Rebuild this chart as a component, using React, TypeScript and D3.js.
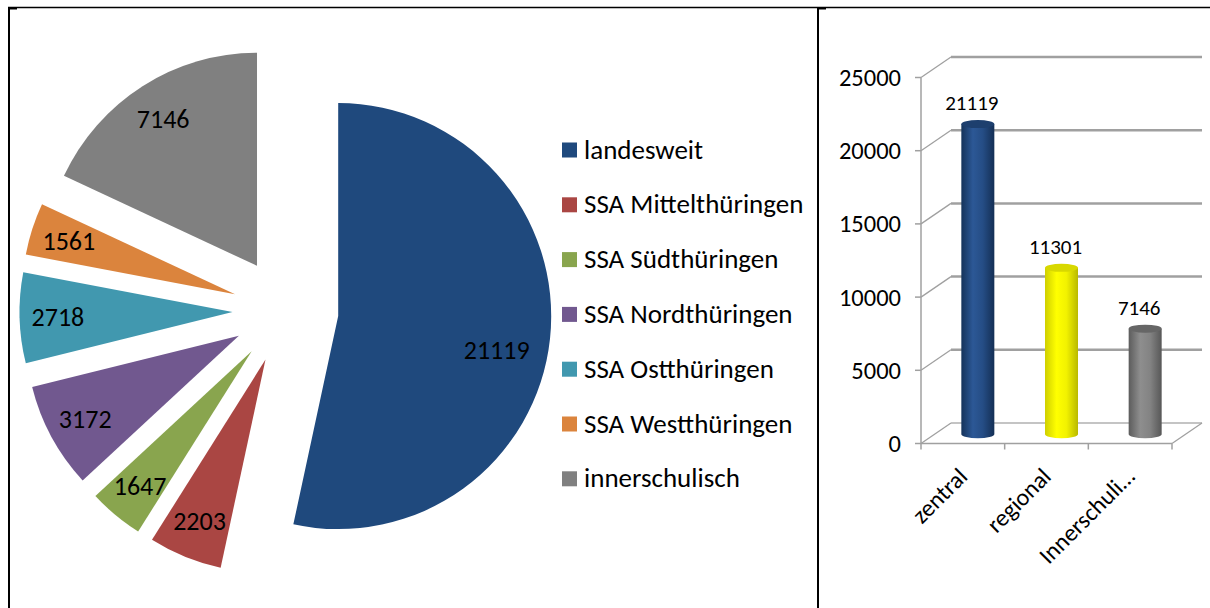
import React from "react";
import * as d3 from "d3";

const pieCategories = [
  "landesweit",
  "SSA Mittelthüringen",
  "SSA Südthüringen",
  "SSA Nordthüringen",
  "SSA Ostthüringen",
  "SSA Westthüringen",
  "innerschulisch",
];
const pieValues = [21119, 2203, 1647, 3172, 2718, 1561, 7146];
const pieColors = ["#1f497d", "#aa4643", "#89a54e", "#71588f", "#4198af", "#db843d", "#808080"];

const barCategories = ["zentral", "regional", "Innerschuli…"];
const barValues = [21119, 11301, 7146];
const barTicks = [0, 5000, 10000, 15000, 20000, 25000];
const barGradients = [
  ["#15335a", "#2c5896", "#254d85", "#142f55"],
  ["#cfcf00", "#ffff00", "#f2f200", "#b9b900"],
  ["#5c5c5c", "#8e8e8e", "#838383", "#575757"],
];
const barTopColors = ["#1d3f6e", "#d8d800", "#666666"];

const FONT = "Carlito, Calibri, Lato, sans-serif";

export default function App() {
  // ---- Pie ----
  const cx = 285.5;
  const cy = 310.5;
  const r = 213;
  const explode = 53;
  const pie = d3
    .pie<number>()
    .sort(null)
    .value((d) => d)
    .startAngle(0)
    .endAngle(2 * Math.PI);
  const arcs = pie(pieValues);
  const arcGen = d3.arc<d3.PieArcDatum<number>>().innerRadius(0).outerRadius(r);

  // ---- Bar (3D cylinders) ----
  const yBack = d3.scaleLinear().domain([0, 25000]).range([423, 57]);
  const depthX = 30;
  const depthY = 20.5;
  const xFront = d3.scaleBand<string>().domain(barCategories).range([921, 1172]);
  const backRight = 1202;
  const yFront = (v: number) => yBack(v) + depthY;
  const yMid = (v: number) => yBack(v) + depthY / 2;
  const barRx = 16.5;
  const barRy = 4;
  const gridColor = "#a0a0a0";

  return (
    <svg
      width={1210}
      height={608}
      style={{ position: "absolute", left: 0, top: 0, background: "#fff" }}
      fontFamily={FONT}
    >
      <defs>
        {barGradients.map((g, i) => (
          <linearGradient key={i} id={`cyl${i}`} x1="0" x2="1" y1="0" y2="0">
            <stop offset="0" stopColor={g[0]} />
            <stop offset="0.35" stopColor={g[1]} />
            <stop offset="0.65" stopColor={g[2]} />
            <stop offset="1" stopColor={g[3]} />
          </linearGradient>
        ))}
      </defs>

      {/* frame */}
      <line x1={8} y1={7.5} x2={1210} y2={7.5} stroke="#000" strokeWidth={1.3} />
      <line x1={9} y1={7} x2={9} y2={608} stroke="#000" strokeWidth={2} />
      <line x1={818} y1={7} x2={818} y2={608} stroke="#000" strokeWidth={2} />
      <rect x={9} y={7} width={8} height={2.5} fill="#000" />
      <rect x={818} y={7} width={8} height={2.5} fill="#000" />

      {/* pie slices */}
      {arcs.map((a, i) => {
        const mid = (a.startAngle + a.endAngle) / 2;
        const dx = explode * Math.sin(mid);
        const dy = -explode * Math.cos(mid);
        return (
          <path
            key={i}
            d={arcGen(a) || ""}
            fill={pieColors[i]}
            transform={`translate(${cx + dx},${cy + dy})`}
          />
        );
      })}
      {/* pie labels */}
      {arcs.map((a, i) => {
        const mid = (a.startAngle + a.endAngle) / 2;
        const big = a.endAngle - a.startAngle > Math.PI;
        const lr = explode + r * (big ? 0.76 : 0.82);
        const ang = big ? mid + 0.08 : mid;
        const x = cx + lr * Math.sin(ang);
        const y = cy - lr * Math.cos(ang);
        return (
          <text key={i} x={x} y={y + 9} textAnchor="middle" fontSize={26} fill="#000">
            {pieValues[i]}
          </text>
        );
      })}

      {/* legend */}
      {pieCategories.map((c, i) => {
        const y = 150 + i * 54.8;
        return (
          <g key={c}>
            <rect x={562} y={y - 7.5} width={15} height={15} fill={pieColors[i]} />
            <text x={584} y={y + 8.5} fontSize={27} fill="#000">
              {c}
            </text>
          </g>
        );
      })}

      {/* bar chart: back gridlines and wall diagonals */}
      {barTicks.map((v) => (
        <g key={v}>
          <line
            x1={921}
            y1={yFront(v)}
            x2={921 + depthX}
            y2={yBack(v)}
            stroke={gridColor}
            strokeWidth={1.3}
          />
          <line
            x1={921 + depthX}
            y1={yBack(v)}
            x2={backRight}
            y2={yBack(v)}
            stroke={v === 0 ? "#b0b0b0" : gridColor}
            strokeWidth={v === 0 ? 1.5 : 2.5}
          />
          <line x1={915} y1={yFront(v)} x2={921} y2={yFront(v)} stroke={gridColor} strokeWidth={1.5} />
          <text x={901} y={yFront(v) + 8.5} textAnchor="end" fontSize={24.5} fill="#000">
            {v}
          </text>
        </g>
      ))}
      {/* value axis */}
      <line x1={921} y1={yFront(25000)} x2={921} y2={yFront(0)} stroke={gridColor} strokeWidth={1.5} />
      {/* floor */}
      <line x1={921} y1={yFront(0)} x2={921 + 251} y2={yFront(0)} stroke={gridColor} strokeWidth={1.5} />
      <line
        x1={921 + 251}
        y1={yFront(0)}
        x2={backRight}
        y2={yBack(0)}
        stroke={gridColor}
        strokeWidth={1.3}
      />
      {[...barCategories.map((c) => xFront(c) as number), 1172].map((x, i) => (
        <line key={i} x1={x} y1={yFront(0)} x2={x} y2={yFront(0) + 6} stroke={gridColor} strokeWidth={1.5} />
      ))}

      {/* cylinders */}
      {barCategories.map((c, i) => {
        const bx = (xFront(c) as number) + xFront.bandwidth() / 2 + depthX / 2;
        const yt = yMid(barValues[i]);
        const yb = yMid(0) + 1;
        const d = `M${bx - barRx},${yt} L${bx - barRx},${yb} A${barRx},${barRy} 0 0 0 ${bx + barRx},${yb} L${
          bx + barRx
        },${yt} Z`;
        return (
          <g key={c}>
            <path d={d} fill={`url(#cyl${i})`} />
            <ellipse cx={bx} cy={yt} rx={barRx} ry={barRy} fill={barTopColors[i]} />
            <text x={bx - 6} y={yt - 14} textAnchor="middle" fontSize={21} fill="#000">
              {barValues[i]}
            </text>
          </g>
        );
      })}

      {/* category labels */}
      {barCategories.map((c) => {
        const x = (xFront(c) as number) + xFront.bandwidth() / 2 + 6;
        const y = 478;
        return (
          <text
            key={c}
            x={x}
            y={y}
            textAnchor="end"
            fontSize={24}
            fill="#000"
            transform={`rotate(-45,${x},${y})`}
          >
            {c}
          </text>
        );
      })}
    </svg>
  );
}
